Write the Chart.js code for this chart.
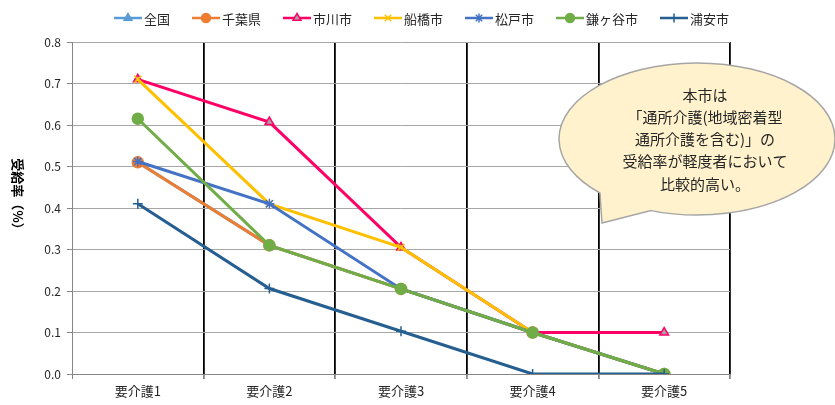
<!DOCTYPE html>
<html>
<head>
<meta charset="utf-8">
<script src="https://cdn.jsdelivr.net/npm/chart.js@4"></script>
<style>
  html, body { margin: 0; padding: 0; background: #fff; }
  #wrap { width: 835px; height: 405px; position: relative; }
</style>
</head>
<body>
<div id="wrap"><canvas id="main-chart" width="835" height="405"></canvas></div>
<script>
const FONT = '"Noto Sans CJK JP", "Noto Sans", sans-serif';

// categories and values
const categories = ['要介護1', '要介護2', '要介護3', '要介護4', '要介護5'];
const zenkoku   = [0.51, 0.31, 0.205, 0.10, 0.0];
const chiba     = [0.51, 0.31, 0.205, 0.10, 0.0];
const ichikawa  = [0.71, 0.607, 0.305, 0.10, 0.10];
const funabashi = [0.71, 0.41, 0.305, 0.10, 0.0];
const matsudo   = [0.512, 0.41, 0.205, 0.10, 0.0];
const kamagaya  = [0.615, 0.31, 0.205, 0.10, 0.0];
const urayasu   = [0.41, 0.206, 0.103, 0.0, 0.0];

const yTicks = [0, 0.1, 0.2, 0.3, 0.4, 0.5, 0.6, 0.7, 0.8];
const calloutLines = ['本市は', '「通所介護(地域密着型', '通所介護を含む)」の', '受給率が軽度者において', '比較的高い。'];

const series = [
    { label: '全国',     data: zenkoku,   color: '#5B9BD5', fill: '#5B9BD5', style: 'triangle' },
    { label: '千葉県',   data: chiba,     color: '#ED7D31', fill: '#ED7D31', style: 'circle' },
    { label: '市川市',   data: ichikawa,  color: '#FF0066', fill: '#A5A5A5', style: 'triangle' },
    { label: '船橋市',   data: funabashi, color: '#FFC000', fill: '#FFC000', style: 'crossRot' },
    { label: '松戸市',   data: matsudo,   color: '#4472C4', fill: '#4472C4', style: 'star' },
    { label: '鎌ヶ谷市', data: kamagaya,  color: '#70AD47', fill: '#70AD47', style: 'circle' },
    { label: '浦安市',   data: urayasu,   color: '#255E91', fill: '#255E91', style: 'cross' }
];

// legend with line + marker, centred on top
const legendPlugin = {
    id: 'lineLegend',
    afterDraw(chart) {
        const ctx = chart.ctx;
        ctx.save();
        ctx.font = '13px ' + FONT;
        const lineLen = 28, gap = 2, itemGap = 22;
        const widths = series.map(s => lineLen + gap + ctx.measureText(s.label).width);
        const total = widths.reduce((a, b) => a + b, 0) + itemGap * (series.length - 1);
        let x = (chart.width - total) / 2 + 4;
        const y = 18;
        series.forEach((s, i) => {
            ctx.strokeStyle = s.color;
            ctx.lineWidth = 2.5;
            ctx.beginPath();
            ctx.moveTo(x, y);
            ctx.lineTo(x + lineLen, y);
            ctx.stroke();
            ctx.fillStyle = s.fill;
            ctx.lineWidth = 1.5;
            Chart.helpers.drawPoint(ctx, { pointStyle: s.style, radius: 4.5, borderWidth: 1.5 }, x + lineLen / 2, y);
            ctx.fillStyle = '#262626';
            ctx.textBaseline = 'middle';
            ctx.textAlign = 'left';
            ctx.fillText(s.label, x + lineLen + gap, y + 1);
            x += widths[i] + itemGap;
        });
        ctx.restore();
    }
};

// rotated y title (reads top to bottom) and speech-bubble note
const notesPlugin = {
    id: 'notes',
    afterDraw(chart) {
        const ctx = chart.ctx;
        const area = chart.chartArea;
        ctx.save();
        ctx.translate(18, (area.top + area.bottom) / 2 - 11);
        ctx.rotate(Math.PI / 2);
        ctx.font = 'bold 13px ' + FONT;
        ctx.fillStyle = '#000';
        ctx.textAlign = 'center';
        ctx.textBaseline = 'middle';
        ctx.fillText('受給率（%）', 0, 0);
        ctx.restore();

        // bubble
        const cx = area.right - 33, cy = 139, rx = 138, ry = 76;
        ctx.save();
        ctx.fillStyle = '#FFF2CC';
        ctx.strokeStyle = '#A6A6A6';
        ctx.lineWidth = 1.5;
        const a1 = Math.atan2((193 - cy) / ry, (600 - cx) / rx);
        const a2 = Math.atan2((212 - cy) / ry, (650 - cx) / rx);
        ctx.beginPath();
        ctx.ellipse(cx, cy, rx, ry, 0, a1, a2 + 2 * Math.PI, false);
        ctx.lineTo(602, 223);
        ctx.closePath();
        ctx.fill();
        ctx.stroke();
        ctx.fillStyle = '#262626';
        ctx.font = '15px ' + FONT;
        ctx.textAlign = 'center';
        ctx.textBaseline = 'middle';
        calloutLines.forEach((t, i) => ctx.fillText(t, 705, 95 + i * 22.2));
        ctx.restore();
    }
};

const ctx = document.getElementById('main-chart').getContext('2d');
new Chart(ctx, {
    type: 'line',
    data: {
        labels: categories,
        datasets: series.map((s, i) => ({
            label: s.label,
            data: s.data,
            borderColor: s.color,
            backgroundColor: s.fill,
            pointBackgroundColor: s.fill,
            pointBorderColor: s.color,
            pointStyle: s.style,
            pointRadius: s.style === 'circle' ? 5.5 : 5,
            pointBorderWidth: 1.5,
            borderWidth: 3,
            tension: 0,
            order: series.length - i
        }))
    },
    options: {
        responsive: false,
        animation: false,
        events: [],
        layout: { padding: { left: 0, right: 105, top: 42, bottom: 0 } },
        plugins: { legend: { display: false }, tooltip: { enabled: false } },
        scales: {
            x: {
                offset: true,
                grid: {
                    offset: true,
                    color: c => c.index === 0 ? '#868686' : '#000',
                    lineWidth: c => c.index === 0 ? 1 : 1.8,
                    tickColor: '#868686',
                    tickLength: 5,
                    drawOnChartArea: true
                },
                border: { color: '#868686', width: 1 },
                ticks: { color: '#262626', font: { family: FONT, size: 13 }, padding: 4 },
                afterFit: axis => { axis.height = 31; }
            },
            y: {
                min: yTicks[0],
                max: yTicks[yTicks.length - 1],
                afterBuildTicks: axis => { axis.ticks = yTicks.map(v => ({ value: v })); },
                grid: { color: '#A6A6A6', lineWidth: 1, tickLength: 5, tickColor: '#868686' },
                border: { color: '#868686', width: 1 },
                ticks: {
                    color: '#262626',
                    font: { family: FONT, size: 12 },
                    padding: 6,
                    callback: v => Number(v).toFixed(1)
                },
                afterFit: axis => { axis.width = 72; }
            }
        }
    },
    plugins: [legendPlugin, notesPlugin]
});
</script>
</body>
</html>
